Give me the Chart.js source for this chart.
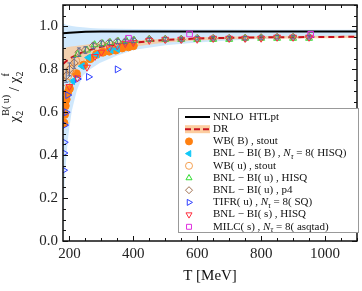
<!DOCTYPE html>
<html>
<head>
<meta charset="utf-8">
<script src="https://cdn.jsdelivr.net/npm/chart.js@4.4.1/dist/chart.umd.min.js"></script>
<style>
  html, body { margin: 0; padding: 0; background: #fff; }
  canvas { display: block; }
</style>
</head>
<body>
<canvas id="grafico" width="362" height="291"></canvas>
<script>
// ticks
const xTicks = [200, 400, 600, 800, 1000];
const yTicks = [0, 0.2, 0.4, 0.6, 0.8, 1.0];

// NNLO HTLpt: linea central y banda
const htlT     = [180, 190, 200, 225, 250, 300, 400, 600, 800, 1100];
const htlLinea = [0.968, 0.97, 0.971, 0.973, 0.975, 0.976, 0.977, 0.977, 0.977, 0.977];
const htlBandaT   = [180, 182, 185, 190, 195, 200, 208, 223, 242, 265, 295, 350, 400, 500, 600, 700, 800, 900, 1000, 1100];
const htlArriba   = [1.015, 1.013, 1.011, 1.008, 1.006, 1.004, 1.002, 0.999, 0.996, 0.993, 0.991, 0.989, 0.988, 0.987, 0.986, 0.986, 0.985, 0.985, 0.985, 0.985];
const htlAbajo    = [0.0, 0.15, 0.28, 0.38, 0.47, 0.53, 0.61, 0.7, 0.77, 0.8, 0.83, 0.865, 0.89, 0.912, 0.925, 0.935, 0.942, 0.948, 0.952, 0.955];

// DR: linea y banda
const drT      = [180, 190, 200, 225, 250, 275, 300, 350, 400, 500, 600, 700, 800, 1000, 1100];
const drLinea  = [0.825, 0.838, 0.85, 0.87, 0.885, 0.895, 0.905, 0.917, 0.925, 0.937, 0.944, 0.947, 0.949, 0.951, 0.952];
const drArriba = [0.9, 0.902, 0.905, 0.91, 0.915, 0.92, 0.925, 0.93, 0.935, 0.943, 0.95, 0.953, 0.955, 0.957, 0.958];
const drAbajo  = [0.73, 0.755, 0.78, 0.815, 0.84, 0.86, 0.875, 0.893, 0.905, 0.925, 0.935, 0.94, 0.943, 0.945, 0.946];

// datos de red
const wbB_T = [183, 185, 187, 190, 194, 200, 222, 245, 265, 285, 305, 325, 345, 365, 385, 400];
const wbB_y = [0.55, 0.59, 0.63, 0.66, 0.69, 0.71, 0.78, 0.82, 0.85, 0.87, 0.88, 0.885, 0.89, 0.9, 0.905, 0.91];

const bnlB_T = [210, 240, 260, 285, 330, 350];
const bnlB_y = [0.745, 0.815, 0.855, 0.87, 0.89, 0.895];

const wbU_T = [190, 195, 205, 220];
const wbU_y = [0.74, 0.77, 0.8, 0.84];

const bnlU_T = [226, 255, 279, 304, 328, 353, 378, 403, 450, 500, 550, 600, 650, 700, 750, 800, 850, 900, 950];
const bnlU_y = [0.87, 0.89, 0.915, 0.92, 0.925, 0.93, 0.935, 0.935, 0.94, 0.94, 0.94, 0.94, 0.94, 0.94, 0.945, 0.945, 0.945, 0.945, 0.945];

const p4_T   = [190, 200, 215, 230, 250, 275, 300, 325, 350, 375, 400, 450, 500, 550, 600, 650, 700, 750, 800, 850, 900, 950];
const p4_y   = [0.77, 0.8, 0.83, 0.88, 0.89, 0.91, 0.92, 0.925, 0.93, 0.93, 0.935, 0.94, 0.94, 0.94, 0.945, 0.945, 0.945, 0.945, 0.948, 0.95, 0.95, 0.95];
const p4_err = [0.03, 0.03, 0.025, 0.02, 0.015, 0.012, 0.012, 0.01, 0.01, 0.01, 0.01, 0.008, 0.008, 0.008, 0.008, 0.008, 0.008, 0.008, 0.008, 0.008, 0.008, 0.008];

const tifr_T = [182, 183, 184, 185, 190, 195, 225, 260, 350];
const tifr_y = [0.33, 0.41, 0.46, 0.54, 0.6, 0.68, 0.755, 0.765, 0.8];

const bnlS_T = [200, 225, 255, 280, 300, 325, 350, 375, 400, 450, 500, 550, 600, 650, 700, 750, 800, 850, 900, 950];
const bnlS_y = [0.72, 0.76, 0.81, 0.86, 0.88, 0.9, 0.91, 0.92, 0.925, 0.935, 0.94, 0.94, 0.94, 0.945, 0.945, 0.945, 0.945, 0.95, 0.95, 0.95];

const milc_T = [385, 576, 955];
const milc_y = [0.945, 0.965, 0.963];

const pts = (xs, ys) => xs.map((x, i) => ({ x: x, y: ys[i] }));

function serie(label, xs, ys, estilo) {
  return Object.assign({ label: label, data: pts(xs, ys), showLine: false, borderWidth: 1 }, estilo);
}

const datasets = [
  serie('MILC', milc_T, milc_y, { pointStyle: 'rect', radius: 4, borderColor: '#e030e0', backgroundColor: 'rgba(0,0,0,0)' }),
  serie('BNL-BI(s)', bnlS_T, bnlS_y, { pointStyle: 'triangle', rotation: 180, radius: 4, borderColor: '#ff3040', backgroundColor: 'rgba(0,0,0,0)' }),
  serie('TIFR', tifr_T, tifr_y, { pointStyle: 'triangle', rotation: 90, radius: 4, borderColor: '#3040ff', backgroundColor: 'rgba(0,0,0,0)' }),
  serie('p4', p4_T, p4_y, { pointStyle: 'rectRot', radius: 4, borderColor: '#a07050', backgroundColor: 'rgba(0,0,0,0)' }),
  serie('BNL-BI(u)', bnlU_T, bnlU_y, { pointStyle: 'triangle', radius: 4, borderColor: '#30dd30', backgroundColor: 'rgba(0,0,0,0)' }),
  serie('WB(u)', wbU_T, wbU_y, { pointStyle: 'circle', radius: 4, borderColor: '#f5a050', backgroundColor: 'rgba(0,0,0,0)' }),
  serie('BNL-BI(B)', bnlB_T, bnlB_y, { pointStyle: 'triangle', rotation: -90, radius: 4, borderColor: '#10c8f8', backgroundColor: '#10c8f8' }),
  serie('WB(B)', wbB_T, wbB_y, { pointStyle: 'circle', radius: 4, borderColor: '#ff8010', backgroundColor: '#ff8010' }),
  // curvas
  { label: 'DR', data: pts(drT, drLinea), showLine: true, pointRadius: 0, borderColor: '#c8101e', borderWidth: 2, borderDash: [6, 4] },
  { label: 'HTL', data: pts(htlT, htlLinea), showLine: true, pointRadius: 0, borderColor: '#000', borderWidth: 2 },
  // bandas
  { label: 'drArriba', data: pts(drT, drArriba), showLine: true, pointRadius: 0, borderWidth: 0, borderColor: 'rgba(0,0,0,0)', backgroundColor: 'rgba(252,200,150,0.75)', fill: '+1' },
  { label: 'drAbajo', data: pts(drT, drAbajo), showLine: true, pointRadius: 0, borderWidth: 0, borderColor: 'rgba(0,0,0,0)' },
  { label: 'htlArriba', data: pts(htlBandaT, htlArriba), showLine: true, pointRadius: 0, borderWidth: 0, borderColor: 'rgba(0,0,0,0)', backgroundColor: 'rgba(200,228,252,0.85)', fill: '+1' },
  { label: 'htlAbajo', data: pts(htlBandaT, htlAbajo), showLine: true, pointRadius: 0, borderWidth: 0, borderColor: 'rgba(0,0,0,0)' }
];

const SERIF = '"Liberation Serif", "DejaVu Serif", serif';

// texto con cursiva y subindices
function textoRico(ctx, partes, x, y, size) {
  partes.forEach(p => {
    if (typeof p === 'string') p = { t: p };
    let s = size, dy = 0, est = '';
    if (p.i) est = 'italic ';
    if (p.sub) { s = size * 0.72; dy = size * 0.3; }
    ctx.font = est + s + 'px ' + SERIF;
    ctx.fillText(p.t, x, y + dy);
    x += ctx.measureText(p.t).width;
  });
  return x;
}

const Nt = [{ t: 'N', i: true }, { t: 'τ', i: true, sub: true }];
const filasLeyenda = [
  { tipo: 'linea', texto: ['NNLO  HTLpt'] },
  { tipo: 'dr', texto: ['DR'] },
  { ds: 7, texto: ['WB( B) , stout'] },
  { ds: 6, texto: ['BNL − BI( B) , '].concat(Nt, [' = 8( HISQ)']) },
  { ds: 5, texto: ['WB( u) , stout'] },
  { ds: 4, texto: ['BNL − BI( u) , HISQ'] },
  { ds: 3, texto: ['BNL − BI( u) , p4'] },
  { ds: 2, texto: ['TIFR( u) , '].concat(Nt, [' = 8( SQ)']) },
  { ds: 1, texto: ['BNL − BI( s) , HISQ'] },
  { ds: 0, texto: ['MILC( s) , '].concat(Nt, [' = 8( asqtad)']) }
];

const erroresP4 = {
  id: 'erroresP4',
  afterDatasetsDraw(chart) {
    const { ctx, scales: { x, y }, chartArea: a } = chart;
    ctx.save();
    ctx.beginPath(); ctx.rect(a.left, a.top, a.right - a.left, a.bottom - a.top); ctx.clip();
    ctx.strokeStyle = '#5a6a9a'; ctx.lineWidth = 1;
    p4_T.forEach((t, i) => {
      const px = x.getPixelForValue(t);
      const y1 = y.getPixelForValue(p4_y[i] + p4_err[i]);
      const y2 = y.getPixelForValue(p4_y[i] - p4_err[i]);
      ctx.beginPath();
      ctx.moveTo(px, y1); ctx.lineTo(px, y2);
      ctx.moveTo(px - 2, y1); ctx.lineTo(px + 2, y1);
      ctx.moveTo(px - 2, y2); ctx.lineTo(px + 2, y2);
      ctx.stroke();
    });
    ctx.restore();
  }
};

const marco = {
  id: 'marco',
  afterDraw(chart) {
    const { ctx, chartArea: a, scales: { x, y } } = chart;
    ctx.save();
    ctx.strokeStyle = '#111';
    ctx.lineWidth = 1;
    ctx.beginPath();
    for (let t = 200; t <= 1100; t += 50) {
      const px = Math.round(x.getPixelForValue(t)) + 0.5;
      const l = t % 200 === 0 ? 5 : 3;
      ctx.moveTo(px, a.bottom); ctx.lineTo(px, a.bottom - l);
      ctx.moveTo(px, a.top); ctx.lineTo(px, a.top + l);
    }
    for (let k = 0; k <= 22; k++) {
      const py = Math.round(y.getPixelForValue(k * 0.05)) + 0.5;
      const l = k % 4 === 0 ? 5 : 3;
      ctx.moveTo(a.left, py); ctx.lineTo(a.left + l, py);
      ctx.moveTo(a.right, py); ctx.lineTo(a.right - l, py);
    }
    ctx.stroke();
    ctx.lineWidth = 1.5;
    ctx.strokeRect(a.left, a.top, a.right - a.left, a.bottom - a.top);

    // leyenda
    const bx = 178, by = 108, bw = 180, bh = 124;
    ctx.fillStyle = '#fff';
    ctx.fillRect(bx, by, bw, bh);
    ctx.strokeStyle = '#999';
    ctx.lineWidth = 1;
    ctx.strokeRect(bx + 0.5, by + 0.5, bw, bh);
    ctx.textBaseline = 'middle';
    filasLeyenda.forEach((f, i) => {
      const cy = by + 9 + i * 12.2;
      if (f.tipo === 'linea') {
        ctx.strokeStyle = '#000'; ctx.lineWidth = 2;
        ctx.beginPath(); ctx.moveTo(185, cy); ctx.lineTo(210, cy); ctx.stroke();
      } else if (f.tipo === 'dr') {
        ctx.fillStyle = 'rgba(252,200,150,0.9)';
        ctx.fillRect(185, cy - 4, 25, 8);
        ctx.strokeStyle = '#c8101e'; ctx.lineWidth = 2; ctx.setLineDash([6, 3]);
        ctx.beginPath(); ctx.moveTo(185, cy); ctx.lineTo(210, cy); ctx.stroke();
        ctx.setLineDash([]);
      } else {
        const d = chart.data.datasets[f.ds];
        ctx.strokeStyle = d.borderColor; ctx.fillStyle = d.backgroundColor; ctx.lineWidth = 1;
        Chart.helpers.drawPoint(ctx, { pointStyle: d.pointStyle, rotation: d.rotation || 0, radius: 3.5, borderWidth: 1 }, 189, cy);
      }
      ctx.fillStyle = '#111';
      textoRico(ctx, f.texto, 213, cy, 11);
    });

    // titulos de ejes
    ctx.fillStyle = '#111';
    ctx.textAlign = 'center';
    ctx.font = '15px ' + SERIF;
    ctx.fillText('T [MeV]', (a.left + a.right) / 2, 276);

    ctx.translate(15, 97);
    ctx.rotate(-Math.PI / 2);
    ctx.textAlign = 'left';
    const partes = [['χ', 15, 0], ['sub', '2', 'B( u)'], [' / ', 15, 0], ['χ', 15, 0], ['sub', '2', 'f']];
    ctx.font = '15px ' + SERIF;
    let ancho = 0;
    const medir = p => {
      if (p[0] === 'sub') {
        ctx.font = '10px ' + SERIF;
        return Math.max(ctx.measureText(p[1]).width, ctx.measureText(p[2]).width);
      }
      ctx.font = '15px ' + SERIF;
      return ctx.measureText(p[0]).width;
    };
    partes.forEach(p => { ancho += medir(p); });
    let cx = -ancho / 2;
    partes.forEach(p => {
      const w = medir(p);
      if (p[0] === 'sub') {
        ctx.fillText(p[1], cx, 5);
        ctx.fillText(p[2], cx, -9);
      } else {
        ctx.fillText(p[0], cx, 0);
      }
      cx += w;
    });
    ctx.restore();
  }
};

new Chart(document.getElementById('grafico'), {
  type: 'scatter',
  data: { datasets: datasets },
  options: {
    responsive: false,
    animation: false,
    devicePixelRatio: 1,
    layout: { padding: { top: 4, right: 2, left: 0, bottom: 0 } },
    plugins: { legend: { display: false }, tooltip: { enabled: false } },
    scales: {
      x: {
        type: 'linear', min: 180, max: 1100,
        grid: { display: false, drawTicks: false },
        border: { display: false },
        afterBuildTicks: s => { s.ticks = xTicks.map(v => ({ value: v })); },
        afterFit: s => { s.height = 50; s.paddingLeft = 0; s.paddingRight = 0; },
        ticks: { padding: 4, color: '#222', font: { family: SERIF, size: 15 }, callback: v => String(v), maxRotation: 0, autoSkip: false }
      },
      y: {
        type: 'linear', min: 0, max: 1.1,
        grid: { display: false, drawTicks: false },
        border: { display: false },
        afterBuildTicks: s => { s.ticks = yTicks.map(v => ({ value: v })); },
        afterFit: s => { s.width = 63; s.paddingTop = 0; s.paddingBottom = 0; },
        ticks: { padding: 5, color: '#222', font: { family: SERIF, size: 15 }, callback: v => v.toFixed(1), autoSkip: false }
      }
    }
  },
  plugins: [erroresP4, marco]
});
</script>
</body>
</html>
